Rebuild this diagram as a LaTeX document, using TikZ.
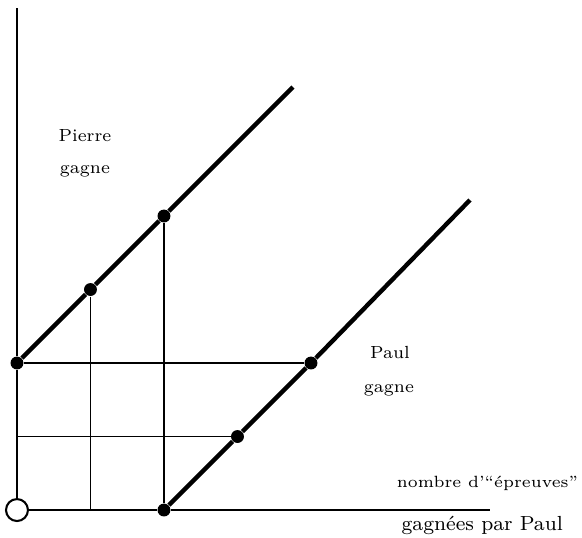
\documentclass[tikz,border=0pt]{standalone}
\usepackage{tikz}

\begin{document}
\begin{tikzpicture}[
    dot/.style={circle,fill=black,inner sep=0pt,minimum size=5pt},
    origin/.style={circle,draw,fill=white,line width=0.8pt,inner sep=0pt,minimum size=8.5pt},
    axis/.style={line width=0.8pt},
    guide/.style={line width=0.5pt},
    heavy/.style={line width=1.7pt},
    lab/.style={font=\fontsize{6.8}{8}\selectfont,anchor=base,inner sep=0pt},
    xlab/.style={font=\fontsize{7.9}{9}\selectfont,anchor=base,inner sep=0pt}
  ]
        \useasboundingbox (-0.231,-0.367) rectangle (7.687,6.939);
        % points
        \draw (0,0) node[origin] (O) {};
        \draw (0,2) node[dot] (A) {};
        \draw (1,3) node[dot] (B) {};
        \draw (2,4) node[dot] (C) {};
        \draw (2,0) node[dot] (D) {};
        \draw (3,1) node[dot] (E) {};
        \draw (4,2) node[dot] (F) {};
        \coordinate (Ytop) at (0,6.83);
        \coordinate (Xend) at (6.435,0);
        \coordinate (Y1) at (0,1);
        \coordinate (X1) at (1,0);
        \coordinate (Aend) at (3.755,5.755);
        \coordinate (Dend) at (6.163,4.218);
        % axes
        \draw[axis] (O)--(Y1)--(A)--(Ytop);
        \draw[axis] (O)--(X1)--(D)--(Xend);
        % guides
        \draw[guide] (A)--(F);
        \draw[guide] (Y1)--(E);
        \draw[guide] (B)--(X1);
        \draw[guide] (C)--(D);
        % the two lines
        \draw[heavy] (A)--(B)--(C)--(Aend);
        \draw[heavy] (D)--(E)--(F)--(Dend);
        % labels
        \node[lab] (pierre) at (0.925,5.02) {Pierre};
        \node[lab] (pgagne) at (0.925,4.585) {gagne};
        \node[lab] (paul) at (5.075,2.068) {Paul};
        \node[lab] (qgagne) at (5.061,1.605) {gagne};
        \node[lab,font=\fontsize{6.3}{8}\selectfont] (nombre) at (6.40,0.30) {nombre d'``épreuves''};
        \node[xlab] (gagnees) at (6.33,-0.272) {gagnées par Paul};
    \end{tikzpicture}
\end{document}
